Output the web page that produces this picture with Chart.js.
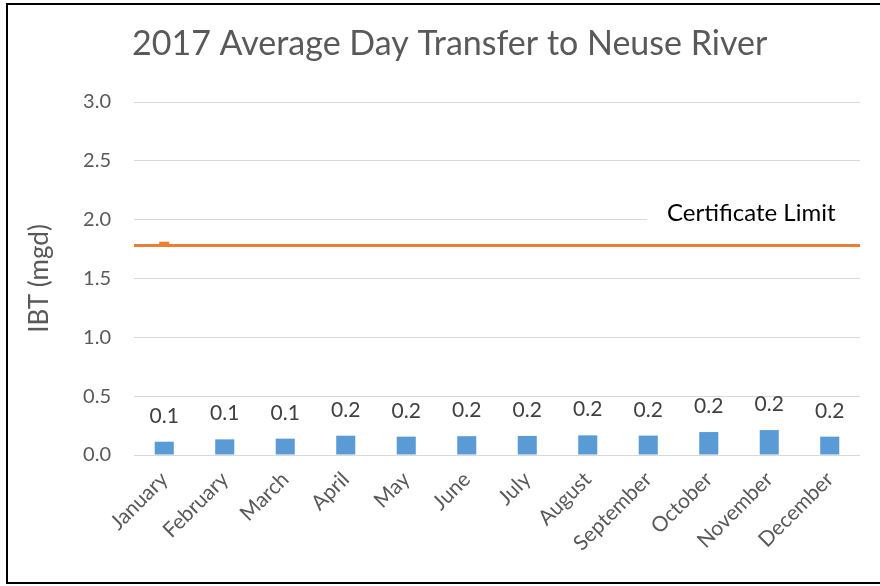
<!DOCTYPE html>
<html>
<head>
<meta charset="utf-8">
<script src="https://cdn.jsdelivr.net/npm/chart.js@4.4.1/dist/chart.umd.min.js"></script>
<style>
  body { margin: 0; background: #fff; overflow: hidden; }
  #wrap { position: relative; width: 880px; height: 586px; }
  #frame { position: absolute; left: 6px; top: 3px; width: 1000px; height: 581px; box-sizing: border-box; border: 2px solid #000; pointer-events: none; }
</style>
</head>
<body>
<div id="wrap">
  <canvas id="chart" width="880" height="586"></canvas>
  <div id="frame"></div>
</div>
<script>
const months = ['January', 'February', 'March', 'April', 'May', 'June', 'July', 'August', 'September', 'October', 'November', 'December'];
const transfer = [0.113, 0.133, 0.139, 0.164, 0.156, 0.160, 0.162, 0.167, 0.165, 0.195, 0.212, 0.156];
const certificateLimit = 1.78;
const januaryMark = [1.80, null, null, null, null, null, null, null, null, null, null, null];
const yTicks = [0, 0.5, 1.0, 1.5, 2.0, 2.5, 3.0];

const titleText = '2017 Average Day Transfer to Neuse River';
const limitLabel = 'Certificate Limit';
const font = 'Lato';

// title, limit label and the value labels over the bars
const extras = {
  id: 'extras',
  beforeDatasetsDraw(chart) {
    const { ctx, chartArea, scales } = chart;
    const y2 = scales.y.getPixelForValue(2.0);
    ctx.save();
    ctx.fillStyle = '#fff';
    ctx.fillRect(chartArea.right - 213, y2 - 3, 220, 6);
    ctx.restore();
  },
  afterDraw(chart) {
    const { ctx, chartArea, scales } = chart;
    ctx.save();
    ctx.fillStyle = '#595959';
    ctx.font = '34px ' + font;
    ctx.textBaseline = 'alphabetic';
    ctx.textAlign = 'left';
    ctx.fillText(titleText, chartArea.left - 2, 55);

    ctx.fillStyle = '#000';
    ctx.font = '24px ' + font;
    ctx.fillText(limitLabel, chartArea.right - 193, scales.y.getPixelForValue(1.99));

    ctx.fillStyle = '#404040';
    ctx.font = '21px ' + font;
    ctx.textAlign = 'center';
    chart.getDatasetMeta(0).data.forEach((bar, i) => {
      ctx.fillText(transfer[i].toFixed(1), bar.x, bar.y - 19);
    });
    ctx.restore();
  }
};

new Chart(document.getElementById('chart'), {
  type: 'bar',
  data: {
    labels: months,
    datasets: [{
      label: 'IBT',
      data: transfer,
      backgroundColor: '#5b9bd5',
      grouped: false,
      categoryPercentage: 1,
      barPercentage: 0.315,
      order: 2
    }, {
      type: 'line',
      label: 'Certificate Limit',
      xAxisID: 'x2',
      data: [{ x: 0, y: certificateLimit }, { x: 1, y: certificateLimit }],
      borderColor: '#ed7d31',
      borderWidth: 3,
      pointRadius: 0,
      clip: false,
      order: 1
    }, {
      type: 'line',
      label: 'mark',
      data: januaryMark,
      showLine: false,
      pointStyle: 'line',
      pointRadius: 5,
      pointBorderWidth: 3,
      borderColor: '#ed7d31',
      order: 1
    }]
  },
  options: {
    responsive: false,
    animation: false,
    events: [],
    layout: { padding: { top: 102, right: 20, left: 0, bottom: 0 } },
    plugins: {
      legend: { display: false },
      tooltip: { enabled: false }
    },
    scales: {
      x: {
        offset: true,
        grid: { display: false },
        border: { display: false },
        ticks: {
          color: '#595959',
          font: { family: font, size: 21 },
          minRotation: 45,
          maxRotation: 45,
          padding: 4
        },
        afterFit(scale) { scale.height = 131; }
      },
      x2: {
        type: 'linear',
        offset: false,
        min: 0,
        max: 1,
        display: false
      },
      y: {
        min: 0,
        max: 3,
        afterBuildTicks(scale) { scale.ticks = yTicks.map(v => ({ value: v })); },
        grid: { color: '#d9d9d9', lineWidth: 1, drawTicks: false },
        border: { display: false },
        ticks: {
          color: '#595959',
          font: { family: font, size: 20 },
          padding: 23,
          callback: v => v.toFixed(1)
        },
        title: {
          display: true,
          text: 'IBT (mgd)',
          color: '#595959',
          font: { family: font, size: 26 },
          padding: { top: 24, bottom: 0 }
        },
        afterFit(scale) { scale.width = 134; }
      }
    }
  },
  plugins: [extras]
});
</script>
</body>
</html>
